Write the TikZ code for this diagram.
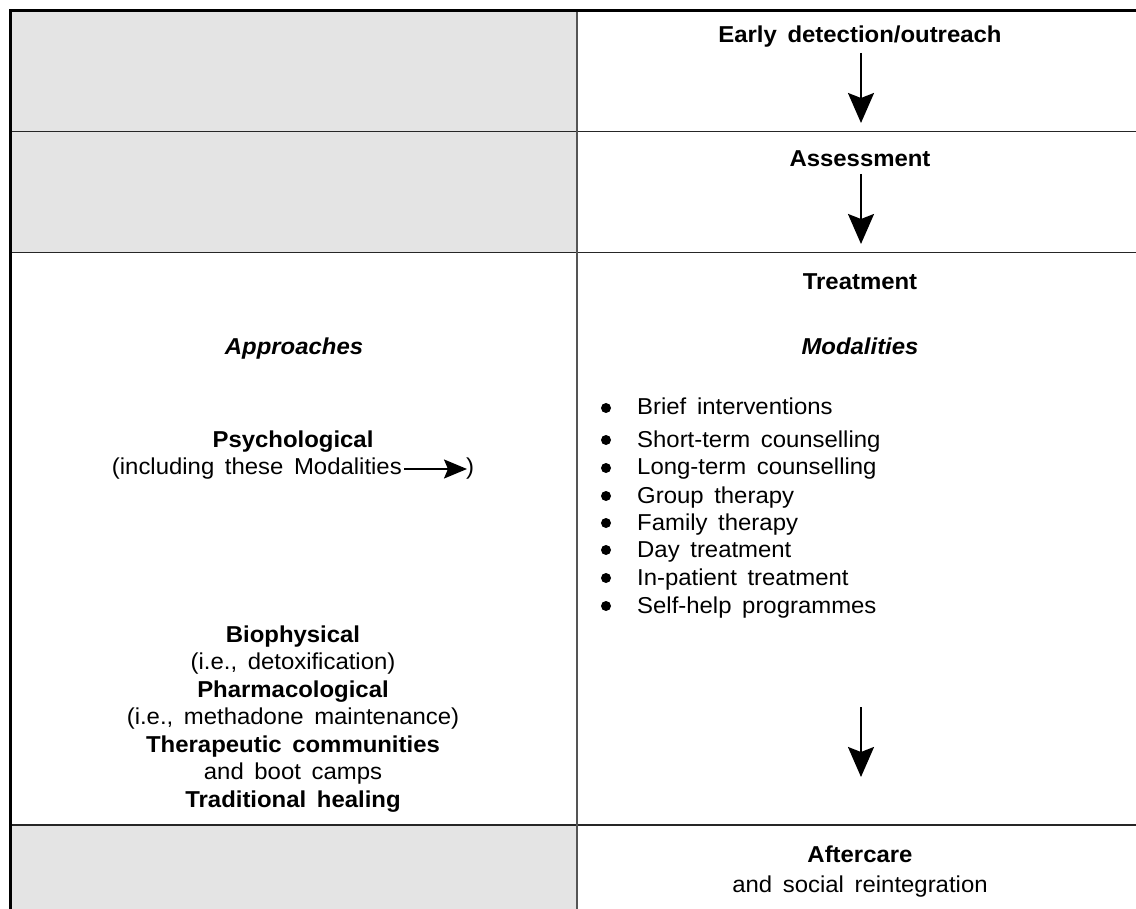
\documentclass[tikz,border=0pt]{standalone}
\usepackage{fontspec}
\setmainfont[FakeStretch=1.04,WordSpace=1.6]{Liberation Sans}
\usetikzlibrary{arrows.meta}
\definecolor{cellgray}{HTML}{E4E4E4}
\definecolor{divgray}{HTML}{555555}
\tikzset{
  txt/.style={inner sep=0pt, anchor=base, font=\fontsize{23}{27.5}\selectfont},
  btxt/.style={txt, font=\fontsize{23}{27.5}\selectfont\bfseries},
  itxt/.style={txt, font=\fontsize{23}{27.5}\selectfont\bfseries\itshape},
  item/.style={inner sep=0pt, anchor=base west, font=\fontsize{23}{27.5}\selectfont},
  dot/.style={circle, fill=black, inner sep=0pt, minimum size=10pt},
  bigarrow/.style={line width=2pt, -{Stealth[length=30pt,width=26pt,inset=5pt]}},
  smallarrow/.style={line width=2pt, -{Stealth[length=23pt,width=19pt,inset=4pt]}},
  hline/.style={line width=1.5pt, black!85},
}
\begin{document}
\begin{tikzpicture}[x=1pt,y=-1pt]
\useasboundingbox (0,0) rectangle (1136,909);
% gray cells
\fill[cellgray] (11,11) rectangle (577,131.5);
\fill[cellgray] (11,131.5) rectangle (577,252.5);
\fill[cellgray] (11,825) rectangle (577,909);
% grid lines
\draw[hline] (10,131.5) -- (1136,131.5);
\draw[hline] (10,252.5) -- (1136,252.5);
\draw[hline] (10,825) -- (1136,825);
\draw[line width=1.6pt, divgray] (577,11) -- (577,909);
\draw[line width=2.5pt, black] (10.3,10) -- (10.3,909);
\draw[line width=3pt, black] (9,11) -- (1136,11);

% right column stages
\node[btxt] (early) at (860,43) {Early detection/outreach};
\coordinate (a1s) at (861,53);
\coordinate (a1e) at (861,123);
\draw[bigarrow] (a1s) -- (a1e);
\node[btxt] (assess) at (860,167) {Assessment};
\coordinate (a2s) at (861,174);
\coordinate (a2e) at (861,244);
\draw[bigarrow] (a2s) -- (a2e);
\node[btxt] (treat) at (860,290) {Treatment};

\node[itxt] (appr) at (294,355) {Approaches};
\node[itxt] (moda) at (860,355) {Modalities};

% left column
\node[btxt] (psych) at (293,447) {Psychological};
\node[txt, anchor=base east] (incl) at (402,475) {(including these Modalities};
\node[txt, anchor=base west] (paren) at (466,475) {)};
\coordinate (pa) at (404,469);
\coordinate (pb) at (467,469);
\draw[smallarrow] (pa) -- (pb);

\node[btxt] (bio) at (293,642) {Biophysical};
\node[txt] (bio2) at (293,669.5) {(i.e., detoxification)};
\node[btxt] (pharm) at (293,697) {Pharmacological};
\node[txt] (pharm2) at (293,724.5) {(i.e., methadone maintenance)};
\node[btxt] (thera) at (293,752) {Therapeutic communities};
\node[txt] (thera2) at (293,779.5) {and boot camps};
\node[btxt] (trad) at (293,807) {Traditional healing};

% modalities list
\foreach \y/\t [count=\i] in {415/Brief interventions, 447/Short-term counselling, 475/Long-term counselling, 503/Group therapy, 530/Family therapy, 557/Day treatment, 585/In-patient treatment, 613/Self-help programmes}{
  \node[item] (m\i) at (637,\y) {\t};
  \node[dot] (d\i) at (606,\y-7) {};
}

\coordinate (a3s) at (861,707);
\coordinate (a3e) at (861,777);
\draw[bigarrow] (a3s) -- (a3e);

\node[btxt] (after) at (860,862) {Aftercare};
\node[txt] (after2) at (860,892) {and social reintegration};
\end{tikzpicture}
\end{document}
